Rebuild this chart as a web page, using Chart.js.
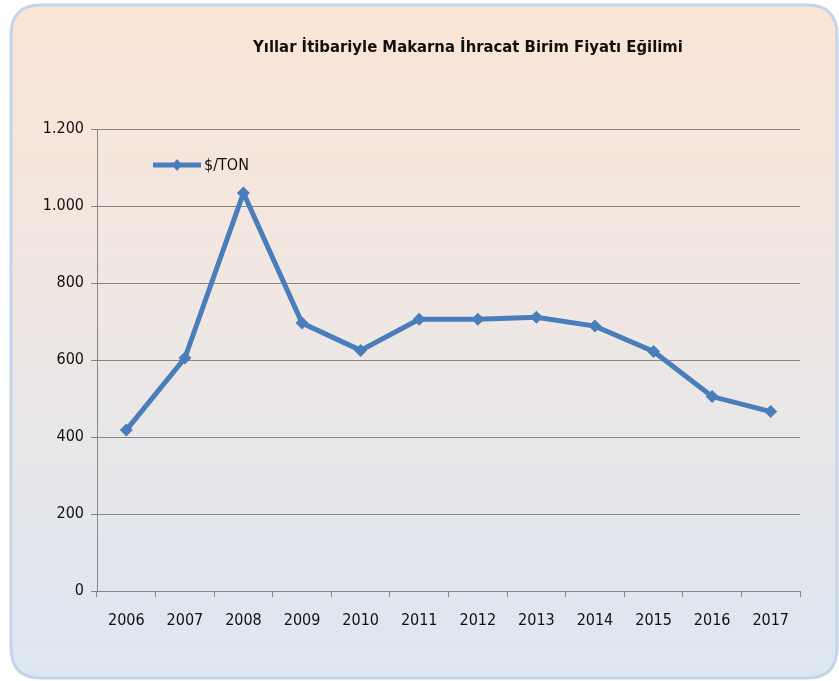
<!DOCTYPE html>
<html>
<head>
<meta charset="utf-8">
<script src="https://cdn.jsdelivr.net/npm/chart.js@4.4.0/dist/chart.umd.min.js"></script>
<style>
  html, body { margin: 0; padding: 0; background: #fff; }
  #wrap { width: 839px; height: 681px; position: relative; }
</style>
</head>
<body>
<div id="wrap"><canvas id="myChart" width="839" height="681"></canvas></div>
<script>
const years = ['2006', '2007', '2008', '2009', '2010', '2011', '2012', '2013', '2014', '2015', '2016', '2017'];
const pricePerTon = [418, 605, 1034, 696, 625, 706, 706, 711, 688, 622, 505, 466];
const seriesName = '$/TON';
const chartTitle = 'Yıllar İtibariyle Makarna İhracat Birim Fiyatı Eğilimi';

const FONT = "'DejaVu Sans Condensed', 'Liberation Sans', sans-serif";
const BLUE = '#4a7ebb';
const GRID = '#868686';

// rounded panel with peach-to-blue gradient behind everything
const panelBackground = {
    id: 'panelBackground',
    beforeDraw(chart) {
        const ctx = chart.ctx;
        const x = 11, y = 5, w = 826, h = 673, r = 30;
        ctx.save();
        const g = ctx.createLinearGradient(0, y, 0, y + h);
        g.addColorStop(0, '#fbe5d5');
        g.addColorStop(0.45, '#efe7e3');
        g.addColorStop(1, '#dce6f2');
        ctx.beginPath();
        ctx.moveTo(x + r, y);
        ctx.lineTo(x + w - r, y);
        ctx.quadraticCurveTo(x + w, y, x + w, y + r);
        ctx.lineTo(x + w, y + h - r);
        ctx.quadraticCurveTo(x + w, y + h, x + w - r, y + h);
        ctx.lineTo(x + r, y + h);
        ctx.quadraticCurveTo(x, y + h, x, y + h - r);
        ctx.lineTo(x, y + r);
        ctx.quadraticCurveTo(x, y, x + r, y);
        ctx.closePath();
        ctx.fillStyle = g;
        ctx.fill();
        ctx.lineWidth = 3;
        ctx.strokeStyle = '#c3d5ea';
        ctx.stroke();
        ctx.restore();
    }
};

// title sits a bit right of centre, like the original
const offsetTitle = {
    id: 'offsetTitle',
    afterDraw(chart) {
        const ctx = chart.ctx;
        ctx.save();
        ctx.fillStyle = '#111';
        ctx.font = 'bold 16.5px ' + FONT;
        ctx.textAlign = 'center';
        ctx.textBaseline = 'middle';
        ctx.fillText(chartTitle, 468, 48);
        ctx.restore();
    }
};

// legend drawn inside the plot, top-left
const insideLegend = {
    id: 'insideLegend',
    afterDraw(chart) {
        const ctx = chart.ctx;
        const ds = chart.data.datasets[0];
        const x0 = chart.chartArea.left + 56, x1 = x0 + 48, y = chart.chartArea.top + 36;
        ctx.save();
        ctx.strokeStyle = ds.borderColor;
        ctx.lineWidth = 5;
        ctx.beginPath();
        ctx.moveTo(x0, y);
        ctx.lineTo(x1, y);
        ctx.stroke();
        const cx = (x0 + x1) / 2;
        ctx.fillStyle = ds.borderColor;
        ctx.beginPath();
        ctx.moveTo(cx, y - 6);
        ctx.lineTo(cx + 5, y);
        ctx.lineTo(cx, y + 6);
        ctx.lineTo(cx - 5, y);
        ctx.closePath();
        ctx.fill();
        ctx.fillStyle = '#111';
        ctx.font = '16px ' + FONT;
        ctx.textBaseline = 'middle';
        ctx.textAlign = 'left';
        ctx.fillText(ds.label, x1 + 3, y + 1);
        ctx.restore();
    }
};

new Chart(document.getElementById('myChart').getContext('2d'), {
    type: 'line',
    data: {
        labels: years,
        datasets: [
            {
                label: seriesName,
                data: pricePerTon,
                borderColor: BLUE,
                backgroundColor: BLUE,
                borderWidth: 5,
                pointStyle: 'rectRot',
                pointRadius: 6.5,
                pointBackgroundColor: BLUE,
                pointBorderWidth: 0,
                tension: 0
            }
        ]
    },
    options: {
        responsive: false,
        animation: false,
        layout: { padding: { left: 0, right: 39, top: 129, bottom: 0 } },
        plugins: {
            legend: { display: false },
            tooltip: { enabled: false },
            title: { display: false }
        },
        scales: {
            x: {
                offset: true,
                afterFit(scale) { scale.height = 90; },
                grid: { display: true, drawOnChartArea: false, drawTicks: true, tickLength: 6, color: GRID, offset: true },
                border: { display: true, color: GRID, width: 1 },
                ticks: { color: '#111', padding: 14, maxRotation: 0, font: { family: FONT, size: 16 } }
            },
            y: {
                min: 0,
                max: 1200,
                afterFit(scale) { scale.width = 97; },
                grid: { color: GRID, lineWidth: 1, tickLength: 6 },
                border: { display: true, color: GRID, width: 1 },
                ticks: {
                    stepSize: 200,
                    color: '#111',
                    padding: 7,
                    font: { family: FONT, size: 16 },
                    callback: (v) => v.toLocaleString('tr-TR')
                }
            }
        }
    },
    plugins: [panelBackground, offsetTitle, insideLegend]
});
</script>
</body>
</html>
